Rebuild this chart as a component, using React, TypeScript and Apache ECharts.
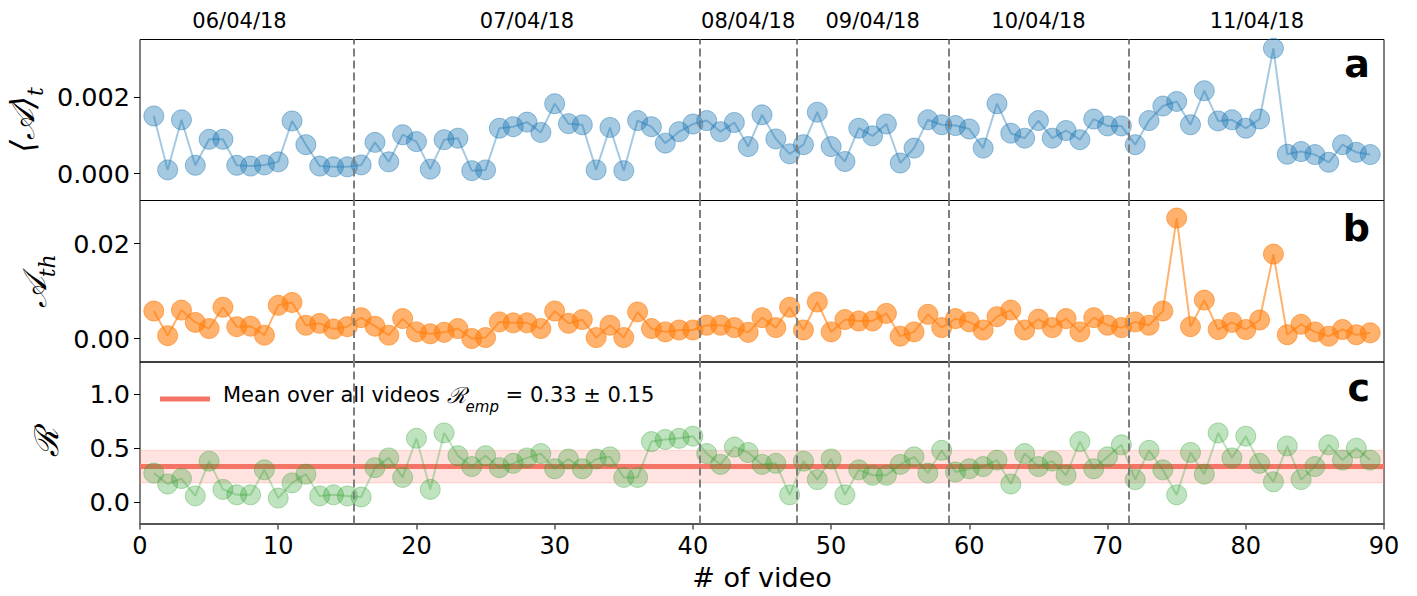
import React, { useEffect, useRef } from "react";
import * as echarts from "echarts";

const aVals = [0.00151,0.0001,0.00141,0.00022,0.0009,0.0009,0.00022,0.0002,0.00023,0.00031,0.00138,0.00076,0.0002,0.00018,0.00018,0.00023,0.00082,0.00031,0.00102,0.00084,0.00012,0.00089,0.00093,0.00008,0.0001,0.00119,0.00123,0.00135,0.00108,0.00183,0.00131,0.00128,0.0001,0.00121,0.00008,0.00139,0.00123,0.0008,0.0011,0.0013,0.00139,0.0011,0.00134,0.00071,0.00154,0.00091,0.00052,0.00076,0.00161,0.00071,0.00032,0.00119,0.00099,0.0013,0.00028,0.00067,0.00141,0.00128,0.00126,0.00117,0.00067,0.00183,0.00106,0.00093,0.00139,0.00093,0.00113,0.00089,0.00143,0.00125,0.00125,0.00076,0.00139,0.00177,0.00189,0.00128,0.00217,0.00138,0.00141,0.00119,0.00143,0.00328,0.00051,0.00058,0.0005,0.0003,0.00076,0.00056,0.0005];
const bVals = [0.0058,0.0006,0.006,0.0034,0.0021,0.0066,0.0025,0.0026,0.0007,0.007,0.0076,0.0028,0.0032,0.002,0.0025,0.0044,0.0026,0.0007,0.0042,0.0014,0.001,0.0013,0.0021,0.0,0.0002,0.0035,0.0033,0.0033,0.0021,0.0058,0.0032,0.004,0.0002,0.0028,0.0002,0.0056,0.0021,0.0014,0.0018,0.0018,0.0028,0.0028,0.0023,0.0013,0.0044,0.0023,0.0066,0.0018,0.0077,0.0014,0.004,0.0037,0.0037,0.0053,0.0005,0.0014,0.0051,0.0023,0.0042,0.0035,0.0018,0.0046,0.006,0.0018,0.0041,0.0023,0.0042,0.0014,0.0044,0.0028,0.0023,0.0035,0.0028,0.0058,0.0254,0.0025,0.0081,0.0019,0.0034,0.0019,0.0039,0.0178,0.0008,0.003,0.0014,0.0005,0.0019,0.0008,0.0012];
const cVals = [0.27,0.17,0.22,0.06,0.38,0.12,0.07,0.07,0.3,0.04,0.18,0.26,0.06,0.07,0.06,0.05,0.32,0.41,0.23,0.59,0.12,0.64,0.43,0.33,0.43,0.32,0.36,0.41,0.45,0.31,0.4,0.31,0.4,0.42,0.23,0.23,0.56,0.58,0.59,0.61,0.45,0.35,0.51,0.46,0.35,0.36,0.07,0.38,0.21,0.4,0.07,0.3,0.25,0.25,0.35,0.42,0.27,0.48,0.28,0.31,0.33,0.39,0.17,0.45,0.33,0.38,0.25,0.56,0.31,0.42,0.53,0.21,0.48,0.3,0.07,0.46,0.26,0.64,0.41,0.61,0.36,0.19,0.52,0.21,0.33,0.53,0.39,0.5,0.39];

const dayBoundaries = [15.5, 40.5, 47.5, 58.5, 71.5];
const dateLabels = ["06/04/18", "07/04/18", "08/04/18", "09/04/18", "10/04/18", "11/04/18"];
const datePositions = [7.2, 28, 44, 53, 65, 80.8];
const xTicks = [0, 10, 20, 30, 40, 50, 60, 70, 80, 90];
const aTicks = [0, 0.002];
const bTicks = [0, 0.02];
const cTicks = [0, 0.5, 1.0];
const meanR = 0.33;
const stdR = 0.15;

const FONT = "DejaVu Sans";

export default function App() {
  const ref = useRef<HTMLDivElement>(null);
  useEffect(() => {
    document.body.style.margin = "0";
    const chart = echarts.init(ref.current!, null, { renderer: "svg" });
    const toPts = (arr: number[]) => arr.map((v, i) => [i + 1, v]);
    const vlines = {
      silent: true,
      symbol: "none",
      label: { show: false },
      lineStyle: { color: "#7f7f7f", type: [8, 4], width: 2 },
      data: dayBoundaries.map((x) => ({ xAxis: x })),
    };
    const grids = [
      { left: 140, right: 33, top: 39.5, height: 161 },
      { left: 140, right: 33, top: 200.5, height: 161.5 },
      { left: 140, right: 33, top: 362, height: 161.5 },
    ].map((g) => ({
      ...g,
      show: true,
      borderColor: "#000",
      borderWidth: 1,
      backgroundColor: "transparent",
      containLabel: false,
      outerBoundsMode: "none",
    }));

    const xAxisBase = (gi: number) => ({
      type: "value",
      gridIndex: gi,
      min: 0,
      max: 90,
      splitLine: { show: false },
      axisLine: { show: gi === 2, onZero: false, lineStyle: { color: "#555", width: 2 } },
      axisTick: gi === 2 ? { show: true, length: 6, lineStyle: { color: "#555", width: 1.5 }, customValues: xTicks } : { show: false },
      axisLabel: gi === 2
        ? { show: true, fontSize: 24, color: "#000", fontFamily: FONT, margin: 10, customValues: xTicks }
        : { show: false },
    });

    const yAxisBase = (gi: number, min: number, max: number, ticks: number[], dec: number, name: string, gap: number, rich: any) => ({
      type: "value",
      gridIndex: gi,
      min,
      max,
      splitLine: { show: false },
      axisLine: { show: false, onZero: false },
      axisTick: { show: true, length: 6, lineStyle: { color: "#000", width: 1 }, customValues: ticks },
      axisLabel: {
        show: true,
        fontSize: 25.5,
        color: "#000",
        fontFamily: FONT,
        margin: 10,
        customValues: ticks,
        formatter: (v: number) => v.toFixed(dec),
      },
      name,
      nameLocation: "middle",
      nameRotate: 90,
      nameGap: gap,
      nameTextStyle: { fontFamily: FONT, fontSize: 32, color: "#000", rich },
    });

    const richSub = {
      m: { fontSize: 33, fontFamily: "DejaVu Serif", fontStyle: "italic", color: "#000", verticalAlign: "top", lineHeight: 40 },
      s: { fontSize: 22, fontFamily: "DejaVu Serif", fontStyle: "italic", color: "#000", verticalAlign: "bottom", lineHeight: 40 },
    };

    const option: any = {
      animation: false,
      textStyle: { fontFamily: FONT },
      grid: grids,
      xAxis: [
        xAxisBase(0),
        xAxisBase(1),
        { ...xAxisBase(2), name: "# of video", nameLocation: "middle", nameGap: 40, nameTextStyle: { fontSize: 27, fontFamily: FONT, color: "#000" } },
        {
          type: "value",
          gridIndex: 0,
          position: "top",
          min: 0,
          max: 90,
          splitLine: { show: false },
          axisLine: { show: false, onZero: false },
          axisTick: { show: false },
          axisLabel: {
            show: true,
            fontSize: 21,
            color: "#000",
            fontFamily: FONT,
            margin: 8,
            customValues: datePositions,
            formatter: (v: number) => {
              const idx = datePositions.findIndex((p) => Math.abs(p - v) < 1e-6);
              return idx >= 0 ? dateLabels[idx] : "";
            },
          },
        },
      ],
      yAxis: [
        yAxisBase(0, -0.0007, 0.00351, aTicks, 3, "{m|⟨𝒜⟩}{s|t}", 90, richSub),
        yAxisBase(1, -0.00495, 0.0291, bTicks, 2, "{m|𝒜}{s|th}", 82, richSub),
        yAxisBase(2, -0.194, 1.293, cTicks, 1, "{m|ℛ}", 70, richSub),
      ],
      legend: {
        show: true,
        left: 155,
        top: 379,
        itemWidth: 50,
        itemHeight: 5,
        itemGap: 10,
        icon: "rect",
        data: [{ name: "mean", icon: "rect" }],
        formatter: () => "{t|Mean over all videos }{r|ℛ}{e|emp}{t| = " + meanR.toFixed(2) + " ± " + stdR.toFixed(2) + "}",
        textStyle: {
          fontFamily: FONT,
          fontSize: 21,
          color: "#000",
          padding: [0, 0, 0, 8],
          rich: {
            t: { fontSize: 21, fontFamily: FONT, color: "#000", verticalAlign: "top", lineHeight: 30 },
            r: { fontSize: 22, fontFamily: "DejaVu Serif", fontStyle: "italic", color: "#000", verticalAlign: "top", lineHeight: 30 },
            e: { fontSize: 15, fontFamily: "DejaVu Sans", fontStyle: "italic", color: "#000", verticalAlign: "bottom", lineHeight: 30 },
          },
        },
      },
      series: [
        {
          type: "line",
          name: "a",
          xAxisIndex: 0,
          yAxisIndex: 0,
          data: toPts(aVals),
          symbol: "circle",
          symbolSize: 20,
          itemStyle: { color: "rgba(31,119,180,0.4)", borderColor: "rgba(31,119,180,0.45)", borderWidth: 1 },
          lineStyle: { color: "rgba(31,119,180,0.4)", width: 2 },
          markLine: vlines,
          z: 3,
        },
        {
          type: "line",
          name: "b",
          xAxisIndex: 1,
          yAxisIndex: 1,
          data: toPts(bVals),
          symbol: "circle",
          symbolSize: 20,
          itemStyle: { color: "rgba(255,127,14,0.6)", borderColor: "rgba(255,127,14,0.6)", borderWidth: 1 },
          lineStyle: { color: "rgba(255,127,14,0.6)", width: 2 },
          markLine: vlines,
          z: 3,
        },
        {
          type: "line",
          name: "mean",
          xAxisIndex: 2,
          yAxisIndex: 2,
          data: [[0, meanR], [90, meanR]],
          symbol: "none",
          lineStyle: { color: "#f47565", width: 5 },
          itemStyle: { color: "#f47565" },
          markArea: {
            silent: true,
            itemStyle: { color: "rgba(250,128,114,0.22)", borderColor: "rgba(250,128,114,0.25)", borderWidth: 1 },
            data: [[{ yAxis: meanR - stdR }, { yAxis: meanR + stdR }]],
          },
          markLine: vlines,
          z: 2,
        },
        {
          type: "line",
          name: "c",
          xAxisIndex: 2,
          yAxisIndex: 2,
          data: toPts(cVals),
          symbol: "circle",
          symbolSize: 20,
          itemStyle: { color: "rgba(44,160,44,0.3)", borderColor: "rgba(44,160,44,0.35)", borderWidth: 1 },
          lineStyle: { color: "rgba(44,160,44,0.3)", width: 2 },
          z: 3,
        },
      ],
      graphic: [
        { type: "text", right: 47, top: 45, style: { text: "a", fontSize: 38, fontWeight: "bold", fontFamily: FONT, fill: "#000" } },
        { type: "text", right: 47, top: 209, style: { text: "b", fontSize: 38, fontWeight: "bold", fontFamily: FONT, fill: "#000" } },
        { type: "text", right: 47, top: 369, style: { text: "c", fontSize: 38, fontWeight: "bold", fontFamily: FONT, fill: "#000" } },
      ],
    };
    chart.setOption(option);
    return () => chart.dispose();
  }, []);
  return <div ref={ref} style={{ width: 1417, height: 596 }} />;
}
